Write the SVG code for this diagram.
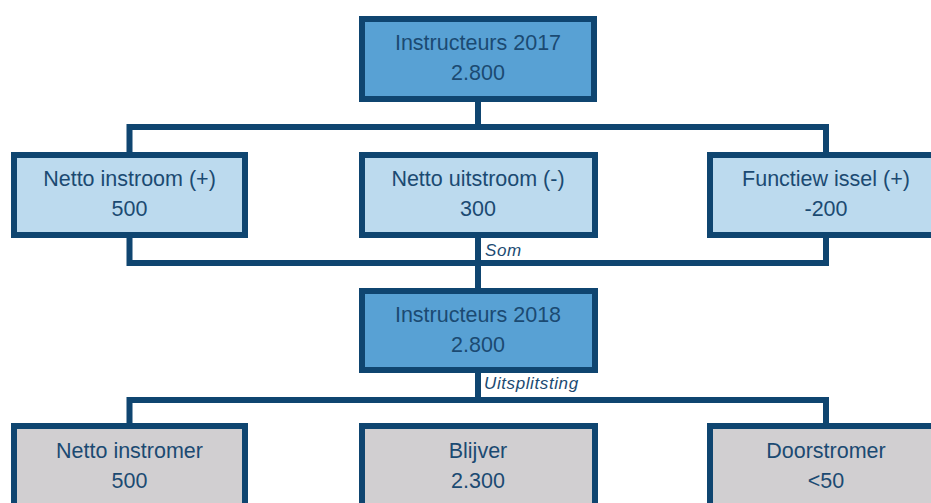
<svg xmlns="http://www.w3.org/2000/svg" width="931" height="503" viewBox="0 0 931 503">
<style>
.box{stroke:#0F4570;stroke-width:6}
.dark{fill:#58A1D4}
.light{fill:#BCDAEE}
.grey{fill:#D1CFD1}
.t{font-family:"Liberation Sans",Arial,sans-serif;font-size:21.5px;fill:#1B4A72;text-anchor:middle}
.lbl{font-family:"Liberation Sans",Arial,sans-serif;font-size:17px;font-style:italic;fill:#1B4A72;letter-spacing:0.6px}
.c{fill:none;stroke:#0F4570;stroke-width:6}
</style>
<rect width="931" height="503" fill="#FFFFFF"/>
<g id="connectors">
<path class="c" d="M478 102V127M129.5 152V127H826V152"/>
<path class="c" d="M129.5 238V263H826V238M478 238V288"/>
<path class="c" d="M478 373V400M129.5 423V400H826V423"/>
</g>
<g id="n-2017">
<rect class="box dark" x="362" y="19" width="232" height="80"/>
<text class="t" x="478" y="50">Instructeurs 2017</text>
<text class="t" x="478" y="80">2.800</text>
</g>
<g id="n-instroom">
<rect class="box light" x="14" y="155" width="231" height="80"/>
<text class="t" x="129.5" y="186">Netto instroom (+)</text>
<text class="t" x="129.5" y="216">500</text>
</g>
<g id="n-uitstroom">
<rect class="box light" x="362" y="155" width="233" height="80"/>
<text class="t" x="478" y="186">Netto uitstroom (-)</text>
<text class="t" x="478" y="216">300</text>
</g>
<g id="n-functiewissel">
<rect class="box light" x="710" y="155" width="232" height="80"/>
<text class="t" x="826" y="186">Functiew issel (+)</text>
<text class="t" x="826" y="216">-200</text>
</g>
<g id="lbl-som">
<text class="lbl" x="485" y="256">Som</text>
</g>
<g id="n-2018">
<rect class="box dark" x="362" y="291" width="233" height="79"/>
<text class="t" x="478" y="322">Instructeurs 2018</text>
<text class="t" x="478" y="352">2.800</text>
</g>
<g id="lbl-uitsplitsting">
<text class="lbl" x="484" y="389">Uitsplitsting</text>
</g>
<g id="n-instromer">
<rect class="box grey" x="14" y="426" width="231" height="90"/>
<text class="t" x="129.5" y="458">Netto instromer</text>
<text class="t" x="129.5" y="488">500</text>
</g>
<g id="n-blijver">
<rect class="box grey" x="362" y="426" width="233" height="90"/>
<text class="t" x="478" y="458">Blijver</text>
<text class="t" x="478" y="488">2.300</text>
</g>
<g id="n-doorstromer">
<rect class="box grey" x="710" y="426" width="232" height="90"/>
<text class="t" x="826" y="458">Doorstromer</text>
<text class="t" x="826" y="488">&lt;50</text>
</g>
</svg>
